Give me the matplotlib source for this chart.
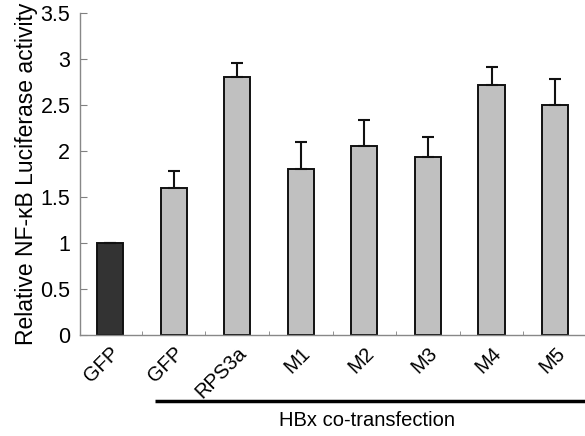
import matplotlib
matplotlib.use("Agg")
import matplotlib.pyplot as plt
import matplotlib.transforms as mtransforms
import numpy as np

plt.rcParams['font.family'] = ['Liberation Sans', 'DejaVu Sans']

categories = ["GFP", "GFP", "RPS3a", "M1", "M2", "M3", "M4", "M5"]
values = [1.0, 1.6, 2.8, 1.8, 2.05, 1.93, 2.72, 2.5]
errors = [0.0, 0.18, 0.16, 0.3, 0.29, 0.22, 0.19, 0.28]
colors = ["#333333"] + ["#c0c0c0"] * 7
yticks = [0, 0.5, 1, 1.5, 2, 2.5, 3, 3.5]
ytick_labels = ["0", "0.5", "1", "1.5", "2", "2.5", "3", "3.5"]

fig = plt.figure(figsize=(5.85, 4.36), dpi=100)
ax = fig.add_axes([0.1368, 0.2317, 0.8632, 0.7385])

x = np.arange(len(categories))
ax.bar(x, values, width=0.41, color=colors, edgecolor="#111111", linewidth=1.4, zorder=2)
ax.errorbar(x, values, yerr=[np.zeros(len(errors)), errors], fmt="none",
            ecolor="#111111", elinewidth=1.5, capsize=4, capthick=1.5, zorder=3)

ax.set_xlim(-0.472, 7.47)
ax.set_ylim(0, 3.5)
ax.set_yticks(yticks)
ax.set_yticklabels(ytick_labels, fontsize=15.5)
ax.set_xticks(x)
ax.set_xticklabels(categories, rotation=45, ha="right", rotation_mode="anchor", fontsize=14.5)
ax.tick_params(axis="x", length=0, pad=6)
ax.set_xticks(x[:-1] + 0.5, minor=True)
ax.tick_params(axis="x", which="minor", direction="in", length=3, color="#808080")
ax.tick_params(axis="y", direction="in", length=5, color="#808080", pad=7)

for side in ("top", "right"):
    ax.spines[side].set_visible(False)
for side in ("left", "bottom"):
    ax.spines[side].set_color("#888888")
    ax.spines[side].set_linewidth(1.0)

ax.set_ylabel("Relative NF-κB Luciferase activity", fontsize=16.5, labelpad=2)

# bracket line for the HBx co-transfected groups
trans = mtransforms.blended_transform_factory(ax.transData, ax.transAxes)
ax.plot([0.71, 7.6], [-0.204, -0.204], transform=trans, color="black",
        linewidth=2.5, clip_on=False, solid_capstyle="butt")
ax.text(4.04, -0.267, "HBx co-transfection", transform=trans, ha="center",
        va="center", fontsize=14.5)

fig.savefig("out.png", dpi=100)
